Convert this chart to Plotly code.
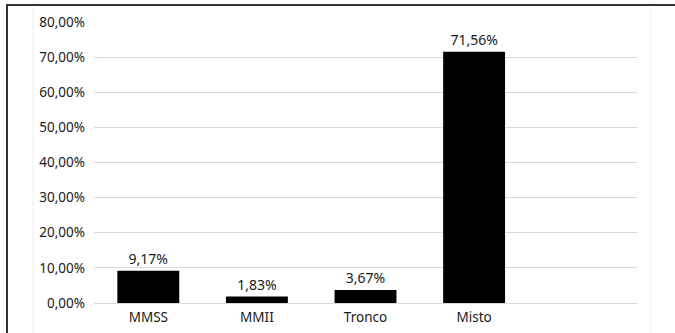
import plotly.graph_objects as go

categories = ["MMSS", "MMII", "Tronco", "Misto"]
values = [9.17, 1.83, 3.67, 71.56]
y_ticks = [0, 10, 20, 30, 40, 50, 60, 70, 80]
y_tick_labels = [f"{v:.2f}".replace(".", ",") + "%" for v in y_ticks]
bar_labels = [f"{v:.2f}".replace(".", ",") + "%" for v in values]

FONT = "Noto Sans, Segoe UI, sans-serif"
TXT = "#1a1a1a"

fig = go.Figure(go.Bar(
    x=categories, y=values,
    marker=dict(color="#000000", line=dict(width=0)),
    text=bar_labels, texttemplate="%{text}", textposition="outside",
    textfont=dict(size=14, color=TXT, family=FONT),
    cliponaxis=False,
))

# pixel-to-paper helpers for decorative frame lines
L, R, T, B = 94, 637, 22, 303
def px(x):
    return (x - L) / (R - L)
def py(y):
    return (B - y) / (B - T)

shapes = [
    dict(type="line", xref="paper", yref="paper", x0=px(7), x1=px(7), y0=py(4), y1=py(340),
         line=dict(color="#333333", width=2)),
    dict(type="line", xref="paper", yref="paper", x0=px(6), x1=px(680), y0=py(5), y1=py(5),
         line=dict(color="#333333", width=2)),
    dict(type="line", xref="paper", yref="paper", x0=px(33), x1=px(33), y0=py(6), y1=py(340),
         line=dict(color="#eeeeee", width=1)),
    dict(type="line", xref="paper", yref="paper", x0=px(651), x1=px(651), y0=py(6), y1=py(340),
         line=dict(color="#f2f2f2", width=1)),
]

fig.update_layout(
    width=675, height=333,
    margin=dict(l=L, r=675 - R, t=T, b=333 - B),
    paper_bgcolor="white", plot_bgcolor="white",
    bargap=0.43,
    showlegend=False,
    font=dict(family=FONT, size=13, color=TXT),
    shapes=shapes,
    xaxis=dict(
        type="category", range=[-0.5, 4.5], automargin=False,
        showgrid=False, showline=False, zeroline=False, ticks="",
        ticklabelstandoff=4,
        tickfont=dict(size=13.5, color=TXT),
    ),
    yaxis=dict(
        range=[0, 80], tickmode="array", tickvals=y_ticks, ticktext=y_tick_labels,
        automargin=False,
        showgrid=True, gridcolor="#d9d9d9", gridwidth=1,
        zeroline=True, zerolinecolor="#d9d9d9", zerolinewidth=1,
        showline=False, ticks="", ticklabelstandoff=8,
        tickfont=dict(size=13.5, color=TXT),
    ),
)

fig.write_html("out.html")
